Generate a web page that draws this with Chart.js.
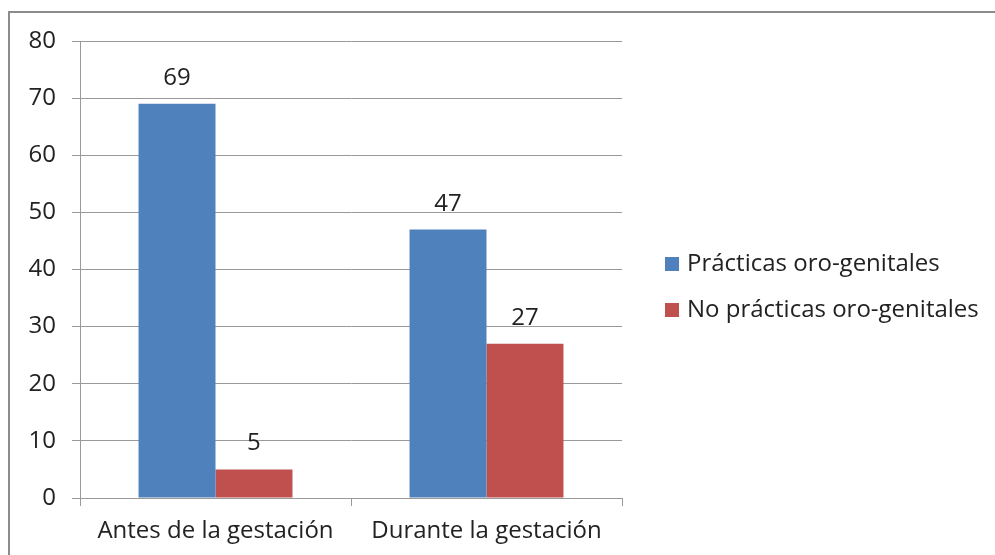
<!DOCTYPE html>
<html><head><meta charset="utf-8">
<script src="https://cdn.jsdelivr.net/npm/chart.js@4"></script>
<style>
html,body{margin:0;padding:0;background:#fff;overflow:hidden}
#wrap{position:relative;width:995px;height:555px}
#frame{position:absolute;left:8px;top:11px;width:1100px;height:700px;border:2px solid #8c8c8c;box-sizing:border-box}
canvas{position:absolute;left:0;top:0}
</style></head><body>
<div id="wrap"><div id="frame"></div><canvas id="c" width="995" height="555"></canvas></div>
<script>
const categories = ['Antes de la gestación', 'Durante la gestación'];
const seriesNames = ['Prácticas oro-genitales', 'No prácticas oro-genitales'];
const practicas = [69, 47];
const noPracticas = [5, 27];
const yMin = 0, yMax = 80, yStep = 10;

const FONT = '"Open Sans"';
const FS = 24;
Chart.defaults.font.family = FONT;
Chart.defaults.font.size = FS;
Chart.defaults.color = '#222';

const valueLabels = {
  id: 'valueLabels',
  afterDatasetsDraw(chart) {
    const ctx = chart.ctx;
    ctx.save();
    ctx.font = FS + 'px ' + FONT;
    ctx.fillStyle = '#222';
    ctx.textAlign = 'center';
    ctx.textBaseline = 'alphabetic';
    chart.data.datasets.forEach((ds, i) => {
      chart.getDatasetMeta(i).data.forEach((bar, j) => {
        ctx.fillText(String(ds.data[j]), bar.x, bar.y - 19);
      });
    });
    ctx.restore();
  }
};

const sideLegend = {
  id: 'sideLegend',
  afterDraw(chart) {
    const ctx = chart.ctx;
    const x0 = chart.chartArea.right + 43;
    const yc = [264, 310];
    ctx.save();
    ctx.font = FS + 'px ' + FONT;
    ctx.textAlign = 'left';
    ctx.textBaseline = 'middle';
    chart.data.datasets.forEach((ds, i) => {
      ctx.fillStyle = ds.backgroundColor;
      ctx.fillRect(x0, yc[i] - 7, 14, 14);
      ctx.fillStyle = '#222';
      ctx.fillText(ds.label, x0 + 22, yc[i]);
    });
    ctx.restore();
  }
};

new Chart(document.getElementById('c'), {
  type: 'bar',
  data: {
    labels: categories,
    datasets: [
      { label: seriesNames[0], data: practicas, backgroundColor: '#4F81BD', borderWidth: 0,
        categoryPercentage: 0.568, barPercentage: 1 },
      { label: seriesNames[1], data: noPracticas, backgroundColor: '#C0504D', borderWidth: 0,
        categoryPercentage: 0.568, barPercentage: 1 }
    ]
  },
  options: {
    responsive: false,
    animation: false,
    layout: { padding: { top: 41, bottom: 0, left: 0, right: 373 } },
    plugins: {
      tooltip: { enabled: false },
      legend: { display: false }
    },
    scales: {
      x: {
        grid: { display: true, drawOnChartArea: false, drawTicks: true, tickLength: 8, color: '#999', offset: true },
        border: { display: true, color: '#999', width: 1 },
        ticks: { maxRotation: 0, autoSkip: false, padding: 11, color: '#222', font: { size: FS } },
        afterFit: s => { s.height = 57; }
      },
      y: {
        min: yMin, max: yMax,
        grid: { color: '#999', tickLength: 8, drawTicks: true },
        border: { display: true, color: '#999', width: 1 },
        ticks: { stepSize: yStep, padding: 16, color: '#222', font: { size: FS } },
        afterFit: s => { s.width = 80; }
      }
    }
  },
  plugins: [valueLabels, sideLegend]
});
</script>
</body></html>
